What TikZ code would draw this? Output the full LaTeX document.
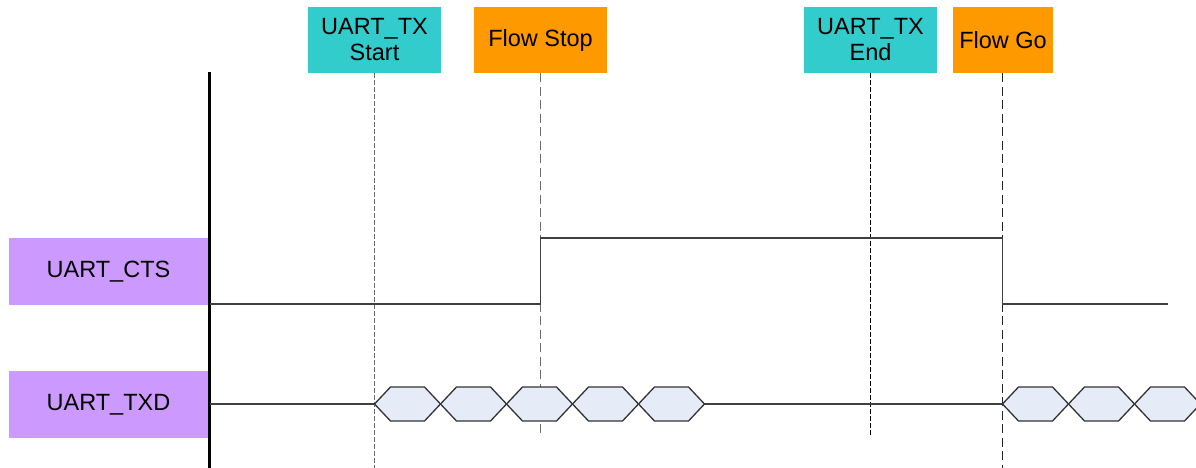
\documentclass[tikz,border=0pt]{standalone}
\usepackage{fontspec}
\setmainfont{Liberation Sans}
\definecolor{sigpurple}{HTML}{CC99FF}
\definecolor{evcyan}{HTML}{33CCCC}
\definecolor{evorange}{HTML}{FF9900}
\definecolor{hexfill}{HTML}{E6ECF7}
\definecolor{sigline}{HTML}{404040}
\begin{document}
\begin{tikzpicture}[x=1pt,y=-1pt,
  lbl/.style={fill=sigpurple,minimum width=200pt,minimum height=67pt,inner sep=0pt,
    font=\fontsize{23.5}{26}\selectfont},
  ev/.style={minimum width=133pt,minimum height=66pt,inner sep=0pt,align=center,
    font=\fontsize{23.5}{26}\selectfont},
  evc/.style={ev,fill=evcyan},
  evo/.style={ev,fill=evorange},
  sig/.style={draw=sigline,line width=1.4pt},
  hexs/.style={draw=sigline!80!black,line width=1.3pt,fill=hexfill,line join=miter},
  fine/.style={line width=1.6pt,dash pattern=on 5pt off 2pt},
  coarse/.style={line width=1.6pt,dash pattern=on 9pt off 4.5pt}]
\useasboundingbox (0,0) rectangle (1196,468);

% labels
\node[lbl] (cts) at (108.5,271.5) {UART\_CTS};
\node[lbl] (txd) at (108.5,404.5) {UART\_TXD};

% event boxes
\node[evc] (start) at (374.5,40) {UART\_TX\\Start};
\node[evo] (stop) at (540.5,40) {Flow Stop};
\node[evc] (end) at (870.5,40) {UART\_TX\\End};
\node[evo,minimum width=100pt] (go) at (1003,40) {Flow Go};

% axis
\coordinate (axT) at (209.5,72);
\coordinate (axB) at (209.5,468);
\draw[line width=3pt,black] (axT) -- (axB);

% event marker lines
\coordinate (startB) at (374.5,468);
\coordinate (stopB) at (540.5,437);
\coordinate (endB) at (870.5,437);
\coordinate (goB) at (1002.5,468);
\draw[fine,draw=gray!85!black] (start.south) -- (startB);
\draw[coarse,draw=gray!85!black] (stop.south) -- (stopB);
\draw[fine,draw=black] (end.south) -- (endB);
\draw[coarse,draw=black!85] (go.south -| goB) -- (goB);

% CTS waveform
\coordinate (c0) at (210,304);
\coordinate (c1) at (540.5,304);
\coordinate (c2) at (540.5,238);
\coordinate (c3) at (1002.5,238);
\coordinate (c4) at (1002.5,304);
\coordinate (c5) at (1168,304);
\draw[sig] (c0) -- (c1) -- (c2) -- (c3) -- (c4) -- (c5);

% TXD waveform
\coordinate (t0) at (210,404);
\coordinate (t1) at (374.5,404);
\coordinate (t2) at (704,404);
\coordinate (t3) at (1002.5,404);
\draw[sig] (t0) -- (t1);
\draw[sig] (t2) -- (t3);
\foreach \x in {374.5,440.5,506.5,572.5,638.5,1002.5,1068.5,1134.5}{
  \draw[hexs] (\x,404) -- ++(16,-17) -- ++(34,0) -- ++(16,17) -- ++(-16,17) -- ++(-34,0) -- cycle;
}
\end{tikzpicture}
\end{document}
